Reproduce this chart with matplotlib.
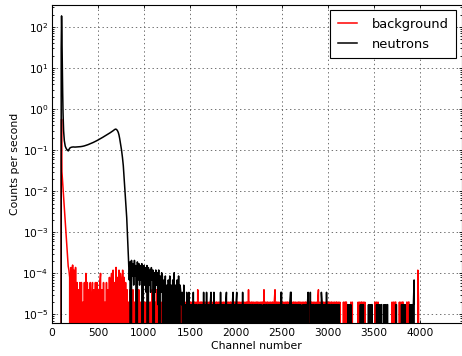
import numpy as np
import matplotlib.pyplot as plt
from matplotlib.ticker import NullFormatter

plt.rcParams['lines.scale_dashes'] = False

# live times (s), used to turn counts into counts per second
t_neutrons = 57800.0
t_background = 50000.0

# neutron spectrum: prompt peak and fast-neutron bump, counts per second
n_head_ch = [0, 96, 100, 104, 108, 112, 116, 120, 126, 134, 144, 156, 168, 177,
             186, 196, 210, 230, 250, 270, 290, 310, 330, 350, 370, 390, 410,
             430, 450, 470, 490, 510, 530, 550, 570, 590, 610, 630, 650, 666,
             678, 688, 696, 704, 712, 720, 728, 736, 746, 756, 766, 775, 784,
             793, 802, 812, 820, 826]
n_head_rate = [0, 0, 30, 186, 60, 10, 2.5, 0.8, 0.3, 0.17, 0.125, 0.108, 0.1, 0.096,
               0.106, 0.114, 0.118, 0.12, 0.119, 0.12, 0.121, 0.122, 0.124, 0.127,
               0.131, 0.136, 0.142, 0.148, 0.155, 0.163, 0.172, 0.182, 0.193, 0.205,
               0.218, 0.232, 0.247, 0.264, 0.283, 0.3, 0.315, 0.325, 0.325, 0.315,
               0.297, 0.272, 0.235, 0.19, 0.14, 0.1, 0.066, 0.042, 0.021, 0.01,
               0.0048, 0.0023, 0.0009, 0.0004]

# neutron tail: raw counts (hex digit) every 8 channels from channel 832
n_tail_start = 832
n_tail = (
    "c4b0c5a3c590b4a394a08"          # 832-999
    "9382908372847062736170526"      # 1000-1199
    "5041503041503040603140503"      # 1200-1399
    "2120301021020101020101101"      # 1400-1599
    "1010102010201101201020101"      # 1600-1799
    "1010201011012010101012010"      # 1800-1999
    "1201010102010110101010110"      # 2000-2199
    "1010110101001010110101010"      # 2200-2399
    "1010110101022010101101012"      # 2400-2599
    "2010101101010100101010120"      # 2600-2799
    "0201011010101010210101020"      # 2800-2999
    "1010110101010101000000000"      # 3000-3199
    "0010101000000000000101010"      # 3200-3399
    "0000010101100000101010110"      # 3400-3599
    "0101011000000000011000000"      # 3600-3799
    "1010110000010101140000000"      # 3800-3999
    "000000000000"                   # 4000-4095
)

# background spectrum: prompt peak, counts per second
bg_head_ch = [0, 96, 100, 104, 108, 116, 126, 136, 146, 156, 166, 176]
bg_head_rate = [0, 0, 0.05, 0.57, 0.03, 0.016, 0.0074, 0.0034, 0.0016,
                0.00072, 0.00033, 0.00015]

# background tail: raw counts every 8 channels from channel 184
bg_tail_start = 184
bg_tail = (
    "640708060703020303010305030"    # 184-399
    "2030130203030203502030103"      # 400-599
    "0204035060307040605306040"      # 600-799
    "3020102010201020102010101"      # 800-999
    "0101020101020101020101010"      # 1000-1199
    "1010102010101010102010101"      # 1200-1399
    "1010110101011010101101020"      # 1400-1599
    "1011010101101010110101011"      # 1600-1799
    "0101101010110101011010110"      # 1800-1999
    "1011010101101011020101101"      # 2000-2199
    "0101101010110201011010101"      # 2200-2399
    "1012011010101101010110101"      # 2400-2599
    "0101101010110101010110101"      # 2600-2799
    "1011010101012010110101011"      # 2800-2999
    "1010110101011010100001011"      # 3000-3199
    "1000001010000000101011010"      # 3200-3399
    "1000000000000010101000000"      # 3400-3599
    "0000000000001010110000101"      # 3600-3799
    "0110000101100000000000610"      # 3800-3999
    "000000000000"                   # 4000-4095
)


def spectrum(head_ch, head_rate, start, tail, live):
    counts = np.array([int(c, 16) for c in tail], dtype=float)
    ch = start + 8 * np.arange(len(counts))
    return (np.concatenate([head_ch, ch]),
            np.concatenate([head_rate, counts / live]))


bg_x, bg_y = spectrum(bg_head_ch, bg_head_rate, bg_tail_start, bg_tail, t_background)
n_x, n_y = spectrum(n_head_ch, n_head_rate, n_tail_start, n_tail, t_neutrons)

fig = plt.figure(figsize=(4.62, 3.56), dpi=100)
ax = fig.add_axes([52 / 462, 33 / 356, 409.5 / 462, 318 / 356])

ax.plot(bg_x, bg_y, color='r', lw=1.1, label='background')
ax.plot(n_x, n_y, color='k', lw=1.1, label='neutrons')

ax.set_yscale('log')
ax.set_xlim(0, 4451)
ax.set_ylim(6.2e-6, 343)
ax.set_xticks(np.arange(0, 4001, 500))
ax.yaxis.set_minor_formatter(NullFormatter())

ax.grid(True, which='major', color='0.35', linestyle=(0, (1, 2)), linewidth=0.6)
ax.tick_params(which='both', direction='in', top=True, right=True,
               labelsize=7.7, width=0.6)
ax.tick_params(which='major', length=2.5)
ax.tick_params(which='minor', length=1.3)
ax.tick_params(axis='y', pad=2.5)
for s in ax.spines.values():
    s.set_linewidth(0.8)

ax.set_xlabel('Channel number', fontsize=7.8, labelpad=2.5)
ax.set_ylabel('Counts per second', fontsize=7.8, labelpad=2)

leg = ax.legend(loc='upper right', fontsize=9.4, fancybox=False,
                framealpha=1, edgecolor='k', handlelength=1.5,
                handletextpad=1.1, borderpad=0.6, borderaxespad=0.4)
leg.get_frame().set_linewidth(0.8)

fig.savefig('out.png', dpi=100)
